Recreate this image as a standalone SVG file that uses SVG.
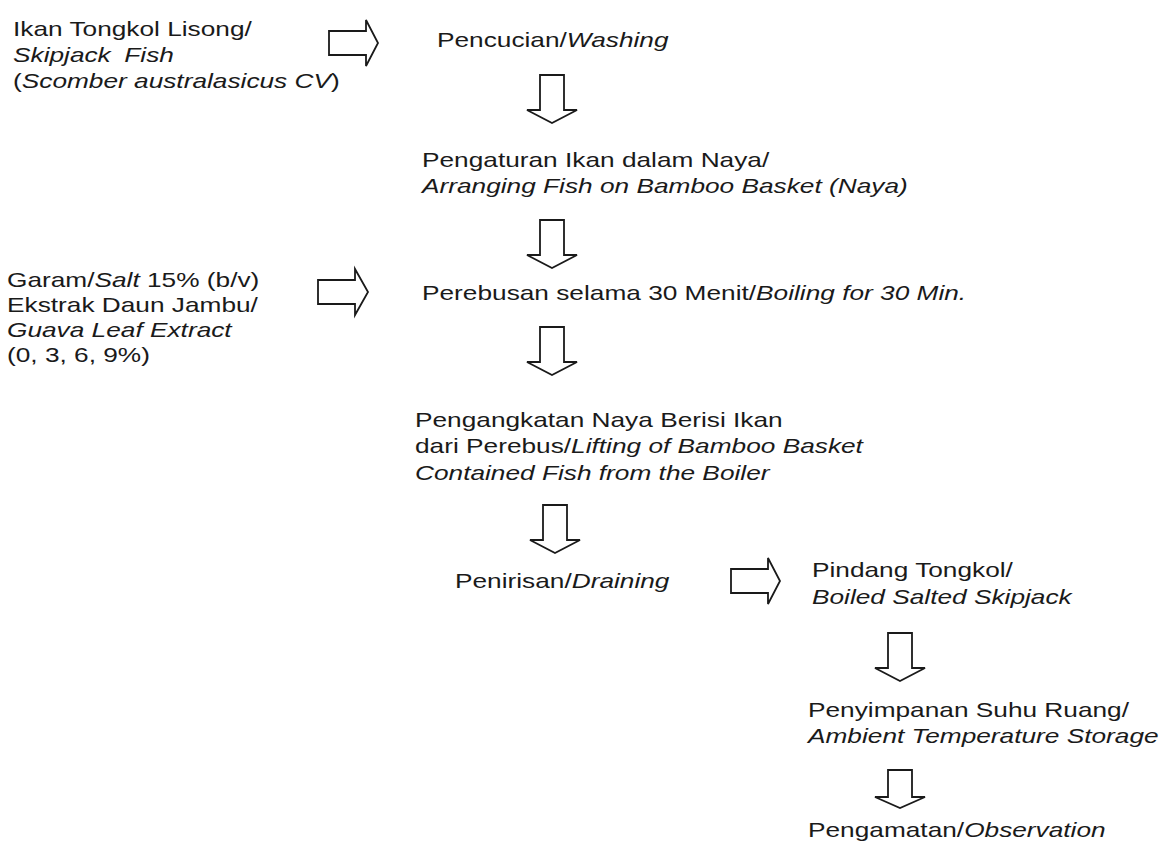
<svg xmlns="http://www.w3.org/2000/svg" width="1165" height="847" viewBox="0 0 1165 847">
<style>
text{font-family:"Liberation Sans",Arial,Helvetica,sans-serif;font-size:21px;fill:#1a1a1a}
.i{font-style:italic}
.arr{fill:none;stroke:#1a1a1a;stroke-width:1.8;stroke-linejoin:miter}
</style>
<rect width="1165" height="847" fill="#ffffff"/>
<g id="connectors">
<path class="arr" d="M329,31 H366 V20 L378,43 L366,66 V55 H329 Z"/>
<path class="arr" d="M318,280 H355 V269 L368,292 L355,315 V304 H318 Z"/>
<path class="arr" d="M731,569 H768 V558 L780,581 L768,604 V593 H731 Z"/>
<path class="arr" d="M540,75 H564 V110 H577 L552,123 L527,110 H540 Z"/>
<path class="arr" d="M540,220 H564 V255 H577 L552,268 L527,255 H540 Z"/>
<path class="arr" d="M540,327 H564 V362 H577 L552,375 L527,362 H540 Z"/>
<path class="arr" d="M543,505 H567 V540 H580 L555,553 L530,540 H543 Z"/>
<path class="arr" d="M888,633 H912 V668 H925 L900,681 L875,668 H888 Z"/>
<path class="arr" d="M888,770 H912 V797 H925 L900,808 L875,797 H888 Z"/>
</g>
<g id="n-ikan" transform="translate(13,0) scale(1.25,1)">
<text x="0" y="36">Ikan Tongkol Lisong/</text>
<text x="0" y="62" class="i">Skipjack <tspan dx="5">Fish</tspan></text>
<text x="0" y="88">(<tspan class="i">Scomber australasicus CV</tspan>)</text>
</g>
<g id="n-pencucian" transform="translate(437,0) scale(1.25,1)">
<text x="0" y="47">Pencucian/<tspan class="i">Washing</tspan></text>
</g>
<g id="n-pengaturan" transform="translate(422,0) scale(1.25,1)">
<text x="0" y="167">Pengaturan Ikan dalam Naya/</text>
<text x="0" y="193" class="i">Arranging Fish on Bamboo Basket (Naya)</text>
</g>
<g id="n-garam" transform="translate(7,0) scale(1.25,1)">
<text x="0" y="287">Garam/<tspan class="i">Salt</tspan> 15% (b/v)</text>
<text x="0" y="312">Ekstrak Daun Jambu/</text>
<text x="0" y="337" class="i">Guava Leaf Extract</text>
<text x="0" y="362">(0, 3, 6, 9%)</text>
</g>
<g id="n-perebusan" transform="translate(422,0) scale(1.25,1)">
<text x="0" y="300">Perebusan selama 30 Menit/<tspan class="i">Boiling for 30 Min.</tspan></text>
</g>
<g id="n-pengangkatan" transform="translate(415,0) scale(1.25,1)">
<text x="0" y="427">Pengangkatan Naya Berisi Ikan</text>
<text x="0" y="453">dari Perebus/<tspan class="i">Lifting of Bamboo Basket</tspan></text>
<text x="0" y="480" class="i">Contained Fish from the Boiler</text>
</g>
<g id="n-penirisan" transform="translate(455,0) scale(1.25,1)">
<text x="0" y="588">Penirisan/<tspan class="i">Draining</tspan></text>
</g>
<g id="n-pindang" transform="translate(812,0) scale(1.25,1)">
<text x="0" y="577">Pindang Tongkol/</text>
<text x="0" y="604" class="i">Boiled Salted Skipjack</text>
</g>
<g id="n-penyimpanan" transform="translate(808,0) scale(1.25,1)">
<text x="0" y="717">Penyimpanan Suhu Ruang/</text>
<text x="0" y="743" class="i">Ambient Temperature Storage</text>
</g>
<g id="n-pengamatan" transform="translate(808,0) scale(1.25,1)">
<text x="0" y="837">Pengamatan/<tspan class="i">Observation</tspan></text>
</g>
</svg>
